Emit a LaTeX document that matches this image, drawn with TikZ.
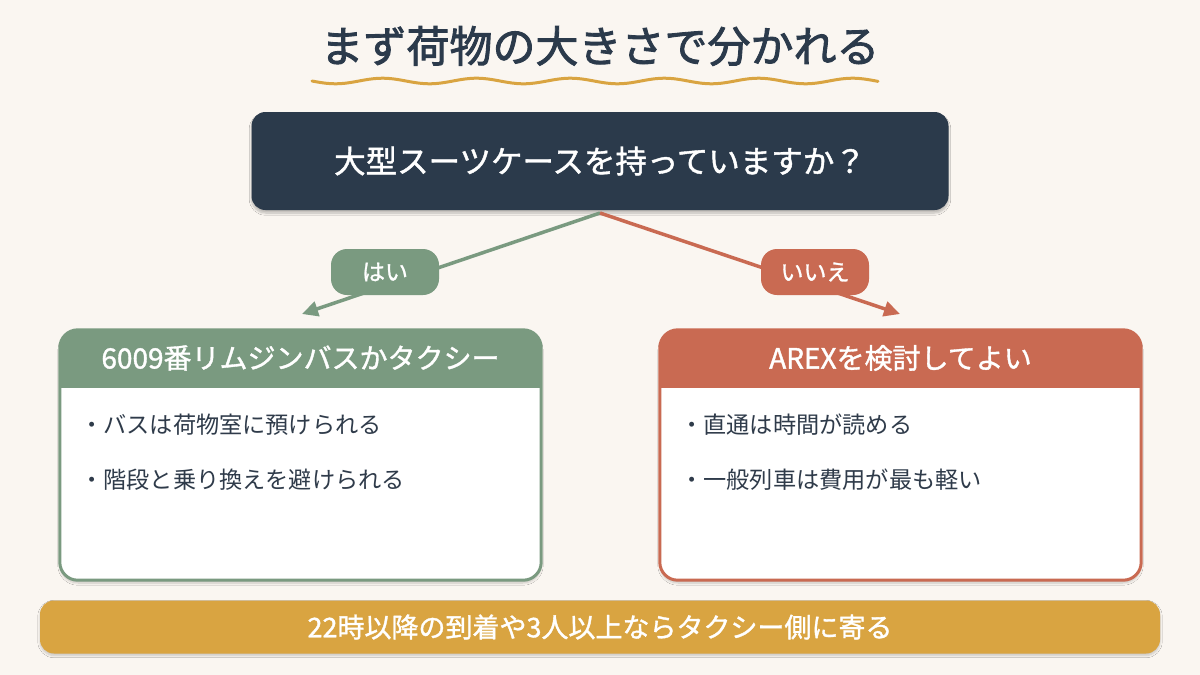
\documentclass[tikz,border=0pt]{standalone}
\usepackage{fontspec}
\setmainfont{Noto Sans CJK JP}
\newfontfamily\medfont[FakeBold=1.3]{Noto Sans CJK JP}
\newfontfamily\titlefont[FakeBold=2]{Noto Sans CJK JP}
\usetikzlibrary{shadows.blur,arrows.meta}
\definecolor{bgc}{HTML}{FAF6F1}
\definecolor{navy}{HTML}{2B3A4B}
\definecolor{sage}{HTML}{7A9A80}
\definecolor{rust}{HTML}{C96A52}
\definecolor{gold}{HTML}{D9A441}
\definecolor{ink}{HTML}{2F3B4A}
\tikzset{
  titletext/.style={text=navy,font=\fontsize{43}{50}\selectfont\titlefont,inner sep=0pt},
  qbox/.style={fill=navy,rounded corners=14pt,minimum width=697pt,minimum height=98pt,
    text=white,font=\fontsize{31.5}{38}\selectfont\medfont,blur shadow={shadow xshift=0pt,shadow yshift=-3pt,shadow blur steps=8,shadow opacity=25}},
  pill/.style={rounded corners=16pt,minimum height=46pt,minimum width=108pt,text=white,
    font=\fontsize{23}{28}\selectfont\medfont,inner xsep=18pt},
  conn/.style={line width=3.5pt,-{Triangle[length=16pt,width=15pt]}},
  card/.style={fill=white,rounded corners=18pt,minimum width=481pt,minimum height=250pt,
    blur shadow={shadow xshift=0pt,shadow yshift=-3pt,shadow blur steps=8,shadow opacity=20}},
  headtext/.style={text=white,font=\fontsize{28}{34}\selectfont\medfont},
  bullet/.style={text=ink,font=\fontsize{23.2}{28}\selectfont,anchor=west,inner sep=0pt},
  bar/.style={fill=gold,rounded corners=14pt,minimum width=1120pt,minimum height=53pt,
    text=white,font=\fontsize{27}{32}\selectfont\medfont,
    blur shadow={shadow xshift=0pt,shadow yshift=-2pt,shadow blur steps=6,shadow opacity=20}}
}
\begin{document}
\begin{tikzpicture}[x=1pt,y=-1pt]
\useasboundingbox (0,0) rectangle (1200,675);
\fill[bgc] (0,0) rectangle (1200,675);
% title
\node[titletext] (title) at (600,46) {まず荷物の大きさで分かれる};
\draw[gold,line width=3pt,line cap=round,domain=0:566,samples=120,variable=\t]
  plot ({312+\t},{81+2.8*sin(\t/94*360)});
% question
\node[qbox] (q) at (600,161) {大型スーツケースを持っていますか？};
\coordinate (qs) at (600,213);
\coordinate (yesEnd) at (302,314);
\coordinate (noEnd) at (900,314);
\draw[conn,sage] (qs) -- (yesEnd);
\draw[conn,rust] (qs) -- (noEnd);
\node[pill,fill=sage] (yes) at (385,272) {はい};
\node[pill,fill=rust] (no) at (815,272) {いいえ};
% left card
\node[card] (lc) at (300.5,455) {};
\begin{scope}
  \clip[rounded corners=18pt] (lc.north west) rectangle (lc.south east);
  \fill[sage] (lc.north west) rectangle ([yshift=-58pt]lc.north east);
\end{scope}
\draw[sage,line width=3pt,rounded corners=18pt] (lc.north west) rectangle (lc.south east);
\node[headtext] (lh) at (300.5,358) {6009番リムジンバスかタクシー};
\node[bullet] (lb1) at (80,425) {・バスは荷物室に預けられる};
\node[bullet] (lb2) at (80,480) {・階段と乗り換えを避けられる};
% right card
\node[card] (rc) at (900.5,455) {};
\begin{scope}
  \clip[rounded corners=18pt] (rc.north west) rectangle (rc.south east);
  \fill[rust] (rc.north west) rectangle ([yshift=-58pt]rc.north east);
\end{scope}
\draw[rust,line width=3pt,rounded corners=18pt] (rc.north west) rectangle (rc.south east);
\node[headtext] (rh) at (900.5,358) {AREXを検討してよい};
\node[bullet] (rb1) at (680,425) {・直通は時間が読める};
\node[bullet] (rb2) at (680,480) {・一般列車は費用が最も軽い};
% bottom bar
\node[bar] (b) at (600,627) {22時以降の到着や3人以上ならタクシー側に寄る};
\end{tikzpicture}
\end{document}
